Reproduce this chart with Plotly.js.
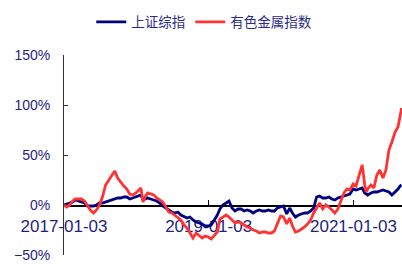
<!DOCTYPE html>
<html>
<head>
<meta charset="utf-8">
<script src="https://cdn.plot.ly/plotly-3.0.1.min.js"></script>
<style>html,body{margin:0;padding:0;background:#fff;}#chart{width:402px;height:264px;}</style>
</head>
<body>
<div id="chart"></div>
<script>
var seriesNames = ["上证综指", "有色金属指数"];
var dates = [
"2017-01-03","2017-01-16","2017-02-01","2017-02-16","2017-03-01","2017-03-16","2017-04-01","2017-04-16",
"2017-05-01","2017-05-16","2017-06-01","2017-06-16","2017-07-01","2017-07-16","2017-08-01","2017-08-16",
"2017-09-01","2017-09-16","2017-10-01","2017-10-16","2017-11-01","2017-11-16","2017-12-01","2017-12-16",
"2018-01-01","2018-01-16","2018-01-26","2018-02-06","2018-02-16","2018-03-01","2018-03-16","2018-04-01","2018-04-16",
"2018-05-01","2018-05-16","2018-06-01","2018-06-16","2018-07-01","2018-07-16","2018-08-01","2018-08-16",
"2018-09-01","2018-09-16","2018-10-01","2018-10-16","2018-11-01","2018-11-16","2018-12-01","2018-12-16",
"2019-01-01","2019-01-16","2019-02-01","2019-02-16","2019-03-01","2019-03-16","2019-04-01","2019-04-16",
"2019-05-01","2019-05-16","2019-06-01","2019-06-16","2019-07-01","2019-07-16","2019-08-01","2019-08-16",
"2019-09-01","2019-09-16","2019-10-01","2019-10-16","2019-11-01","2019-11-16","2019-12-01","2019-12-16",
"2020-01-01","2020-01-16","2020-02-01","2020-02-16","2020-03-01","2020-03-16","2020-04-01","2020-04-16",
"2020-05-01","2020-05-16","2020-06-01","2020-06-16","2020-07-01","2020-07-16","2020-08-01","2020-08-16",
"2020-09-01","2020-09-16","2020-10-01","2020-10-16","2020-11-01","2020-11-16","2020-12-01","2020-12-16",
"2021-01-01","2021-01-16","2021-02-01","2021-02-16","2021-03-01","2021-03-08","2021-03-16","2021-04-01","2021-04-16",
"2021-05-01","2021-05-16","2021-06-01","2021-06-16","2021-07-01","2021-07-16","2021-08-01","2021-08-16",
"2021-08-26","2021-09-03"
];
var shComposite = [
0,1,2,3,5,4,3,2,
-1,-1,-1,0,2,2,3,4,
5,6,7,7,8,8,6,7,
8,9,10,5,6,7,6,5,4,
2,-1,-3,-5,-7,-8,-7,-10,
-12,-13,-12,-15,-17,-18,-19,-21,
-21,-20,-15,-10,-4,0,2,4,
-3,-6,-4,-4,-6,-5,-6,-8,
-6,-5,-6,-6,-5,-6,-6,-3,
-2,-1,-9,-3,-8,-12,-10,-9,
-8,-8,-6,-3,8,9,7,7,
8,6,5,7,8,9,10,11,
16,15,16,17,12,11,10,12,13,
13,14,15,14,13,10,13,16,
19,20
];
var nonFerrous = [
0,-2,0,4,6,6,6,4,
0,-5,-8,-5,0,8,20,25,
30,34,27,23,19,16,11,10,
12,15,17,3,8,12,11,10,7,
5,3,-2,-7,-8,-10,-13,-15,
-20,-23,-28,-33,-28,-31,-33,-31,
-32,-34,-30,-27,-14,-12,-10,-12,
-15,-18,-17,-18,-20,-22,-23,-25,
-26,-28,-27,-27,-28,-28,-26,-18,
-11,-12,-19,-13,-21,-27,-26,-24,
-22,-19,-15,-8,-3,2,-4,0,
-2,-5,-8,-4,4,12,16,15,
21,19,30,40,20,13,16,20,17,
30,35,27,35,55,63,73,78,
90,97
];
var xTickVals = ["2017-01-03", "2019-01-03", "2021-01-03"];
var xTickText = ["2017-01-03", "2019-01-03", "2021-01-03"];
var yTickVals = [-50, 0, 50, 100, 150];
var yTickText = ["\u221250%", "0%", "50%", "100%", "150%"];

var labelColor = "#1f1f80";
var traces = [
  {x: dates, y: shComposite, name: seriesNames[0], type: "scatter", mode: "lines",
   line: {color: "#000080", width: 2.8}},
  {x: dates, y: nonFerrous, name: seriesNames[1], type: "scatter", mode: "lines",
   line: {color: "#ff3333", width: 2.8}}
];
var layout = {
  width: 402, height: 264,
  margin: {l: 64, r: 0, t: 55, b: 9},
  paper_bgcolor: "#fff", plot_bgcolor: "#fff",
  showlegend: true,
  legend: {orientation: "h", x: 0.415, xanchor: "center", y: 1.165, yanchor: "middle",
           font: {family: "Noto Sans CJK SC", size: 13.5, color: "#2b2b8c"}, itemwidth: 30},
  xaxis: {
    type: "date", range: ["2017-01-03", "2021-09-05"],
    anchor: "free", position: 0.25,
    showgrid: false, zeroline: false,
    showline: true, linecolor: "#000", linewidth: 1.5,
    ticks: "inside", ticklen: 5, tickcolor: "#000", tickwidth: 1,
    tickmode: "array", tickvals: xTickVals, ticktext: xTickText,
    ticklabelstandoff: 5,
    tickfont: {family: "Liberation Sans, Arial", size: 17, color: labelColor},
    layer: "below traces"
  },
  yaxis: {
    range: [-50, 150],
    showgrid: false, zeroline: false,
    showline: true, linecolor: "#333", linewidth: 1,
    ticks: "inside", ticklen: 4, tickcolor: "#333",
    tickmode: "array", tickvals: yTickVals, ticktext: yTickText,
    ticklabelstandoff: 10,
    tickfont: {family: "Liberation Sans, Arial", size: 14, color: labelColor},
    layer: "below traces"
  }
};
Plotly.newPlot("chart", traces, layout, {staticPlot: true, displayModeBar: false});
</script>
</body>
</html>
